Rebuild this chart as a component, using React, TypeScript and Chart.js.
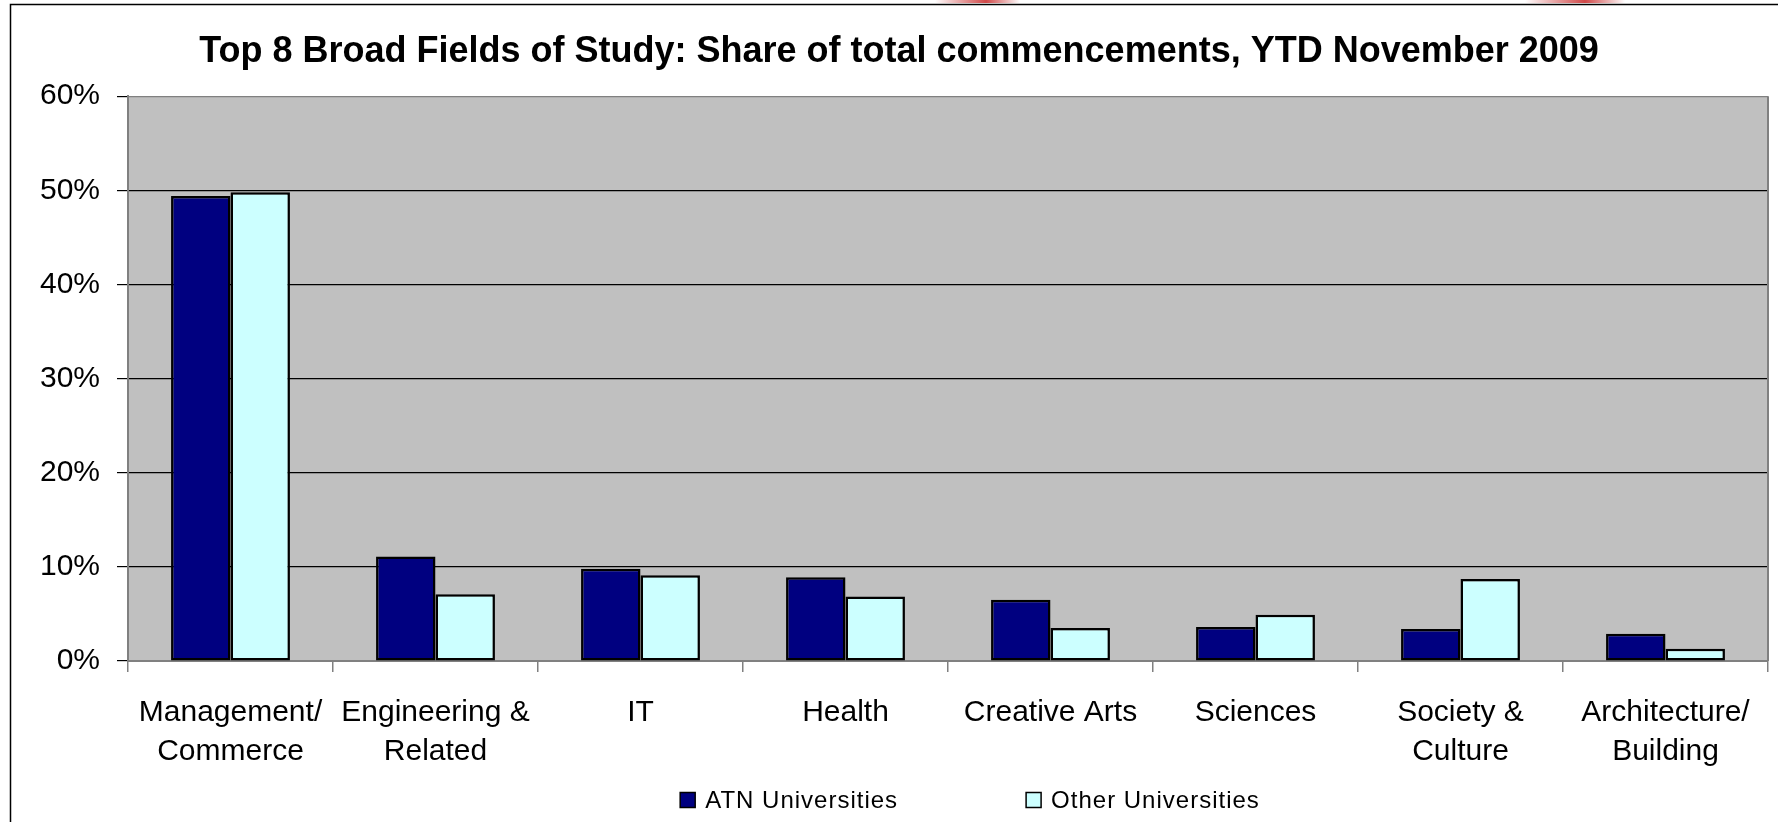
import React, { useEffect, useRef } from "react";
import { Chart, registerables } from "chart.js";

Chart.register(...registerables);

const titleText = "Top 8 Broad Fields of Study: Share of total commencements, YTD November 2009";
const categories: (string | string[])[] = [
  ["Management/", "Commerce"],
  ["Engineering &", "Related"],
  "IT",
  "Health",
  "Creative Arts",
  "Sciences",
  ["Society &", "Culture"],
  ["Architecture/", "Building"],
];
const seriesNames = ["ATN Universities", "Other Universities"];
const atnValues = [49.4, 11.1, 9.8, 8.9, 6.5, 3.6, 3.4, 2.9];
const otherValues = [49.8, 7.1, 9.1, 6.85, 3.5, 4.9, 8.7, 1.3];
const yTickValues = [0, 10, 20, 30, 40, 50, 60];

const FONT = "'Liberation Sans', Arial, sans-serif";

const framePlugin = {
  id: "frame",
  beforeDraw(chart: any) {
    const { ctx, chartArea, width, height } = chart;
    ctx.save();
    ctx.fillStyle = "#ffffff";
    ctx.fillRect(0, 0, width, height);
    const drawRed = (x0: number, x1: number) => {
      const g = ctx.createLinearGradient(x0, 0, x1, 0);
      g.addColorStop(0, "rgba(200,40,40,0)");
      g.addColorStop(0.6, "rgba(200,40,40,0.85)");
      g.addColorStop(1, "rgba(200,40,40,0)");
      ctx.fillStyle = g;
      ctx.fillRect(x0, 0, x1 - x0, 3);
    };
    drawRed(935, 1020);
    drawRed(1525, 1625);
    ctx.strokeStyle = "#000000";
    ctx.lineWidth = 1.5;
    ctx.strokeRect(10.5, 4.5, width + 50, height + 50);
    ctx.fillStyle = "#C0C0C0";
    ctx.fillRect(chartArea.left, chartArea.top, chartArea.right - chartArea.left, chartArea.bottom - chartArea.top);
    ctx.restore();
  },
  beforeDatasetsDraw(chart: any) {
    const { ctx, chartArea } = chart;
    ctx.save();
    ctx.strokeStyle = "#808080";
    ctx.lineWidth = 2;
    ctx.beginPath();
    ctx.moveTo(chartArea.right, chartArea.top);
    ctx.lineTo(chartArea.right, chartArea.bottom);
    ctx.stroke();
    ctx.restore();
  },
  afterDraw(chart: any) {
    const { ctx } = chart;
    const ds = chart.data.datasets;
    ctx.save();
    ctx.font = `24px ${FONT}`;
    (ctx as any).letterSpacing = "1px";
    ctx.textBaseline = "middle";
    ctx.textAlign = "left";
    const box = 15;
    const gapText = 10;
    const gapItems = 128;
    const widths = ds.map((d: any) => ctx.measureText(d.label).width);
    const total = widths.reduce((a: number, w: number) => a + box + gapText + w, 0) + gapItems * (ds.length - 1);
    let x = 970 - total / 2;
    const yc = 800;
    ds.forEach((d: any, i: number) => {
      ctx.fillStyle = d.backgroundColor;
      ctx.fillRect(x, yc - box / 2, box, box);
      ctx.strokeStyle = "#000";
      ctx.lineWidth = 1.5;
      ctx.strokeRect(x, yc - box / 2, box, box);
      ctx.fillStyle = "#000";
      ctx.fillText(d.label, x + box + gapText, yc + 1);
      x += box + gapText + widths[i] + gapItems;
    });
    ctx.restore();
  },
};

export default function App() {
  const ref = useRef<HTMLCanvasElement | null>(null);
  useEffect(() => {
    if (!ref.current) return;
    const chart = new Chart(ref.current, {
      type: "bar",
      data: {
        labels: categories as any,
        datasets: [
          {
            label: seriesNames[0],
            data: atnValues,
            backgroundColor: "#000080",
            borderColor: "#000000",
            borderWidth: 2.5,
            borderSkipped: false,
            categoryPercentage: 0.58,
            barPercentage: 1.0,
          },
          {
            label: seriesNames[1],
            data: otherValues,
            backgroundColor: "#CCFFFF",
            borderColor: "#000000",
            borderWidth: 2.5,
            borderSkipped: false,
            categoryPercentage: 0.58,
            barPercentage: 1.0,
          },
        ],
      },
      options: {
        responsive: false,
        animation: false,
        devicePixelRatio: 1,
        layout: { padding: { left: 30, right: 10, top: 0, bottom: 0 } },
        plugins: {
          legend: { display: false },
          tooltip: { enabled: false },
          title: {
            display: true,
            text: titleText,
            color: "#000000",
            font: { family: FONT, size: 36, weight: "bold", lineHeight: 1.2 },
            padding: { top: 30, bottom: 23 },
          },
        },
        scales: {
          x: {
            offset: true,
            grid: {
              display: true,
              offset: true,
              drawOnChartArea: false,
              drawTicks: true,
              tickLength: 11,
              color: "#808080",
              lineWidth: 1.5,
            },
            border: { display: true, color: "#808080", width: 2 },
            ticks: {
              color: "#000000",
              font: { family: FONT, size: 30, lineHeight: 1.3 },
              padding: 21,
              maxRotation: 0,
              minRotation: 0,
              autoSkip: false,
            },
            afterFit: (s: any) => {
              s.height = 161;
            },
          },
          y: {
            min: 0,
            max: 60,
            afterBuildTicks: (s: any) => {
              s.ticks = yTickValues.map((v) => ({ value: v }));
            },
            ticks: {
              color: "#000000",
              font: { family: FONT, size: 30 },
              padding: 17,
              callback: (v: any) => `${v}%`,
            },
            grid: {
              color: (c: any) => (c.tick && (c.tick.value === 60 || c.tick.value === 0) ? "#808080" : "#000000"),
              tickColor: "#000000",
              tickLength: 11,
              lineWidth: 1.2,
            },
            border: { display: true, color: "#808080", width: 2 },
            afterFit: (s: any) => {
              s.width = 98;
            },
          },
        },
      },
      plugins: [framePlugin],
    });
    return () => chart.destroy();
  }, []);

  return (
    <div style={{ position: "absolute", left: 0, top: 0, width: 1778, height: 822, background: "#fff" }}>
      <canvas ref={ref} width={1778} height={822} style={{ display: "block", width: 1778, height: 822 }} />
    </div>
  );
}
